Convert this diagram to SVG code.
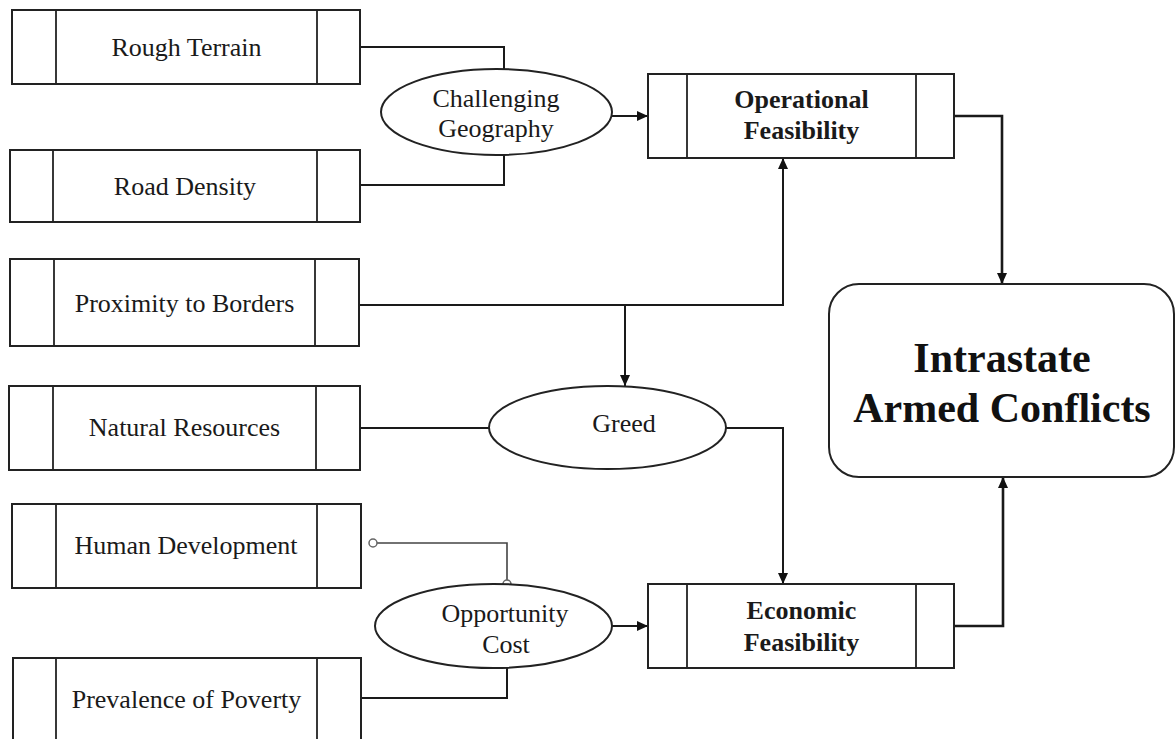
<svg xmlns="http://www.w3.org/2000/svg" width="1176" height="739" viewBox="0 0 1176 739">
<style>
.box{fill:#fff;stroke:#222;stroke-width:2}
.div{stroke:#222;stroke-width:1.8}
.ell{fill:#fff;stroke:#222;stroke-width:2}
.t{font-family:"Liberation Serif","Times New Roman",serif;font-size:26px;fill:#1a1a1a;text-anchor:middle}
.b{font-weight:bold}
.big{font-family:"Liberation Serif","Times New Roman",serif;font-size:42px;font-weight:bold;fill:#111;text-anchor:middle}
.c{fill:none;stroke:#1a1a1a;stroke-width:2}
.thick{stroke-width:2.6}
.thin{stroke:#444;stroke-width:1.6}
.dot{fill:#fff;stroke:#666;stroke-width:1.5}
</style>
<defs>
<marker id="arr" markerUnits="userSpaceOnUse" markerWidth="11" markerHeight="10" refX="11" refY="5" orient="auto">
<path d="M0,0 L11,5 L0,10 z" fill="#111"/>
</marker>
</defs>
<rect width="1176" height="739" fill="#fff"/>

<g id="connectors">
<path class="c" d="M360,47 H504 V69"/>
<path class="c" d="M360,185 H504 V155"/>
<path class="c" d="M612,116 H648" marker-end="url(#arr)"/>
<path class="c" d="M359,305 H783 V158" marker-end="url(#arr)"/>
<path class="c" d="M625,305 V386" marker-end="url(#arr)"/>
<path class="c" d="M360,428 H489"/>
<path class="c" d="M726,428 H783 V584" marker-end="url(#arr)"/>
<path class="c thin" d="M377,543 H507 V580"/>
<circle class="dot" cx="373" cy="543" r="4"/>
<circle class="dot" cx="507" cy="584" r="4"/>
<path class="c" d="M361,698 H507 V668"/>
<path class="c" d="M612,626 H648" marker-end="url(#arr)"/>
<path class="c thick" d="M954,116 H1002 V284" marker-end="url(#arr)"/>
<path class="c thick" d="M954,626 H1003 V477" marker-end="url(#arr)"/>
</g>

<g id="rough-terrain">
<rect class="box" x="12" y="10" width="348" height="74"/>
<line class="div" x1="56" y1="10" x2="56" y2="84"/>
<line class="div" x1="317" y1="10" x2="317" y2="84"/>
<text class="t" x="186.5" y="56">Rough Terrain</text>
</g>

<g id="road-density">
<rect class="box" x="10" y="150" width="350" height="72"/>
<line class="div" x1="53" y1="150" x2="53" y2="222"/>
<line class="div" x1="317" y1="150" x2="317" y2="222"/>
<text class="t" x="185" y="195">Road Density</text>
</g>

<g id="proximity-to-borders">
<rect class="box" x="10" y="259" width="349" height="87"/>
<line class="div" x1="54" y1="259" x2="54" y2="346"/>
<line class="div" x1="315" y1="259" x2="315" y2="346"/>
<text class="t" x="184.5" y="311.5">Proximity to Borders</text>
</g>

<g id="natural-resources">
<rect class="box" x="9" y="386" width="351" height="84"/>
<line class="div" x1="53" y1="386" x2="53" y2="470"/>
<line class="div" x1="316" y1="386" x2="316" y2="470"/>
<text class="t" x="184.5" y="436">Natural Resources</text>
</g>

<g id="human-development">
<rect class="box" x="12" y="504" width="349" height="84"/>
<line class="div" x1="56" y1="504" x2="56" y2="588"/>
<line class="div" x1="317" y1="504" x2="317" y2="588"/>
<text class="t" x="186" y="554">Human Development</text>
</g>

<g id="prevalence-of-poverty">
<rect class="box" x="13" y="658" width="348" height="90"/>
<line class="div" x1="56" y1="658" x2="56" y2="748"/>
<line class="div" x1="317" y1="658" x2="317" y2="748"/>
<text class="t" x="186.5" y="707.5">Prevalence of Poverty</text>
</g>

<g id="challenging-geography">
<ellipse class="ell" cx="496.5" cy="112" rx="115.5" ry="43"/>
<text class="t" x="496" y="107">Challenging</text>
<text class="t" x="496" y="137">Geography</text>
</g>

<g id="greed">
<ellipse class="ell" cx="607.5" cy="427.5" rx="118.5" ry="41.5"/>
<text class="t" x="624" y="432">Greed</text>
</g>

<g id="opportunity-cost">
<ellipse class="ell" cx="493.5" cy="626" rx="118.5" ry="42"/>
<text class="t" x="505" y="622">Opportunity</text>
<text class="t" x="506" y="653">Cost</text>
</g>

<g id="operational-feasibility">
<rect class="box" x="648" y="74" width="306" height="84"/>
<line class="div" x1="687" y1="74" x2="687" y2="158"/>
<line class="div" x1="916" y1="74" x2="916" y2="158"/>
<text class="t b" x="801.5" y="108">Operational</text>
<text class="t b" x="801.5" y="139">Feasibility</text>
</g>

<g id="economic-feasibility">
<rect class="box" x="648" y="584" width="306" height="84"/>
<line class="div" x1="687" y1="584" x2="687" y2="668"/>
<line class="div" x1="916" y1="584" x2="916" y2="668"/>
<text class="t b" x="801.5" y="619">Economic</text>
<text class="t b" x="801.5" y="651">Feasibility</text>
</g>

<g id="intrastate-armed-conflicts">
<rect class="box" x="829" y="284" width="345" height="193" rx="30" ry="30"/>
<text class="big" x="1002" y="372">Intrastate</text>
<text class="big" x="1002" y="422">Armed Conflicts</text>
</g>
</svg>
